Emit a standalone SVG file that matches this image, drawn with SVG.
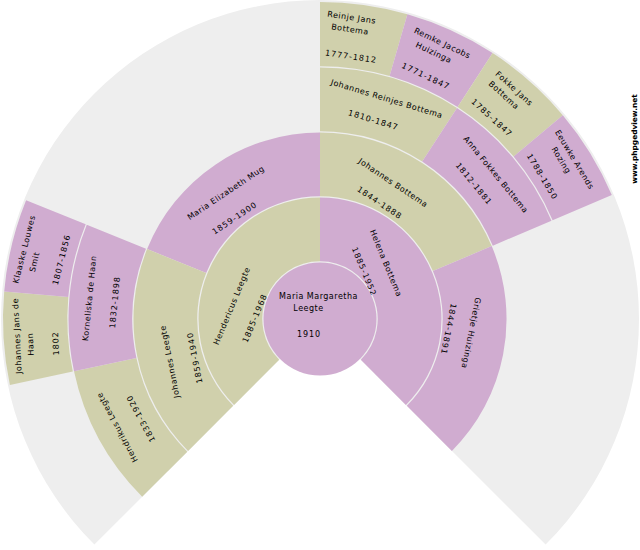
<svg xmlns="http://www.w3.org/2000/svg" width="640" height="550" viewBox="0 0 640 550">
<style>
.m{fill:#D0D0AC}.f{fill:#D0ACD0}.bg{fill:#EEEEEE}
text{font-family:"DejaVu Sans",sans-serif;font-size:8px;letter-spacing:.5px;text-anchor:middle;dominant-baseline:central;fill:#000}
text.d{letter-spacing:.95px}
.brand{font-size:7.4px;font-weight:bold;letter-spacing:0}
</style>
<rect width="640" height="550" fill="#fff"/>
<g id="background">
<path class="bg" d="M320 319L94.4 544.6A319 319 0 1 1 545.6 544.6Z"/>
</g>
<g id="connectors"/>
<g id="p-reinje"><path class="m" d="M320 2A317 317 0 0 1 407.4 14.3L389.6 76.1A252.7 252.7 0 0 0 320 66.3Z"/>
<text transform="translate(351.7 17.7) rotate(8.4)">Reinje Jans</text><text transform="translate(350 29.5) rotate(8.4)">Bottema</text><text class="d" transform="translate(351 56.7) rotate(8.4)">1777-1812</text></g>
<g id="p-remke"><path class="f" d="M407.4 14.3A317 317 0 0 1 492.6 53.1L457.6 107.1A252.7 252.7 0 0 0 389.6 76.1Z"/>
<text transform="translate(442.3 43.3) rotate(25.3)">Remke Jacobs</text><text transform="translate(433.7 52.7) rotate(25.3)">Huizinga</text><text class="d" transform="translate(425.7 76.3) rotate(25.3)">1771-1847</text></g>
<g id="p-fokke"><path class="m" d="M492.6 53.1A317 317 0 0 1 562.8 115.2L513.6 156.6A252.7 252.7 0 0 0 457.6 107.1Z"/>
<text transform="translate(514 88.7) rotate(42.2)">Fokke Jans</text><text transform="translate(503.7 95.3) rotate(42.2)">Bottema</text><text class="d" transform="translate(491.7 118) rotate(42.2)">1785-1847</text></g>
<g id="p-eeuwke"><path class="f" d="M562.8 115.2A317 317 0 0 1 611.8 195.1L552.6 220.3A252.7 252.7 0 0 0 513.6 156.6Z"/>
<text transform="translate(574.3 159.7) rotate(59)">Eeuwke Arends</text><text transform="translate(561 160.3) rotate(59)">Rozing</text><text class="d" transform="translate(542 176.7) rotate(59)">1788-1850</text></g>
<g id="p-johannes-reinjes"><path class="m" d="M320 67.5A251.5 251.5 0 0 1 457 108.1L422.2 161.6A187.7 187.7 0 0 0 320 131.3Z"/>
<text transform="translate(386.7 99) rotate(16.9)">Johannes Reinjes Bottema</text><text class="d" transform="translate(373.3 120.3) rotate(16.9)">1810-1847</text></g>
<g id="p-anna"><path class="f" d="M457 108.1A251.5 251.5 0 0 1 551.5 220.7L492.8 245.7A187.7 187.7 0 0 0 422.2 161.6Z"/>
<text transform="translate(495.7 174.7) rotate(50.6)">Anna Fokkes Bottema</text><text class="d" transform="translate(473.7 184) rotate(50.6)">1812-1881</text></g>
<g id="p-johannes-bottema"><path class="m" d="M320 132.5A186.5 186.5 0 0 1 491.7 246.1L432.9 271.1A122.7 122.7 0 0 0 320 196.3Z"/>
<text transform="translate(393 183) rotate(33.75)">Johannes Bottema</text><text class="d" transform="translate(379.5 203) rotate(33.75)">1844-1888</text></g>
<g id="p-grietje"><path class="f" d="M491.7 246.1A186.5 186.5 0 0 1 451.9 450.9L406.8 405.8A122.7 122.7 0 0 0 432.9 271.1Z"/>
<text transform="translate(471 333) rotate(101.25)">Grietje Huizinga</text><text class="d" transform="translate(448.3 329) rotate(101.25)">1844-1891</text></g>
<g id="p-helena"><path class="f" d="M320 197.5A121.5 121.5 0 0 1 405.9 404.9L360.8 359.8A57.7 57.7 0 0 0 320 261.3Z"/>
<text transform="translate(385.7 263.3) rotate(67.5)">Helena Bottema</text><text class="d" transform="translate(364 271.7) rotate(67.5)">1885-1952</text></g>
<g id="p-hendericus"><path class="m" d="M320 197.5A121.5 121.5 0 0 0 234.1 404.9L279.2 359.8A57.7 57.7 0 0 1 320 261.3Z"/>
<text transform="translate(232 306) rotate(-67.5)">Hendericus Leegte</text><text class="d" transform="translate(255 318.3) rotate(-67.5)">1885-1968</text></g>
<g id="p-maria-elizabeth"><path class="f" d="M320 132.5A186.5 186.5 0 0 0 147.1 249.1L206.2 273A122.7 122.7 0 0 1 320 196.3Z"/>
<text transform="translate(226 193) rotate(-33.75)">Maria Elizabeth Mug</text><text class="d" transform="translate(234.7 218.3) rotate(-33.75)">1859-1900</text></g>
<g id="p-johannes-leegte"><path class="m" d="M147.1 249.1A186.5 186.5 0 0 0 188.1 450.9L233.2 405.8A122.7 122.7 0 0 1 206.2 273Z"/>
<text transform="translate(170 361.7) rotate(-101.25)">Johannes Leegte</text><text class="d" transform="translate(195 357.7) rotate(-101.25)">1859-1940</text></g>
<g id="p-hendrikus"><path class="m" d="M74 371.3A251.5 251.5 0 0 0 142.2 496.8L187.3 451.7A187.7 187.7 0 0 1 136.4 358Z"/>
<text transform="translate(117.3 427.3) rotate(-118.1)">Hendrikus Leegte</text><text class="d" transform="translate(141 418.3) rotate(-118.1)">1833-1920</text></g>
<g id="p-korneliska"><path class="f" d="M74 371.3A251.5 251.5 0 0 1 86.8 224.8L146 248.7A187.7 187.7 0 0 0 136.4 358Z"/>
<text transform="translate(89.7 298.3) rotate(-84.4)">Korneliska de Haan</text><text class="d" transform="translate(115 302.3) rotate(-84.4)">1832-1898</text></g>
<g id="p-johannes-jans"><path class="m" d="M9.9 384.9A317 317 0 0 1 4.2 291.4L68.3 297A252.7 252.7 0 0 0 72.8 371.5Z"/>
<text transform="translate(17.3 336) rotate(-92.8)">Johannes Jans de</text><text transform="translate(30.7 344.3) rotate(-92.8)">Haan</text><text class="d" transform="translate(56 343.3) rotate(-92.8)">1802</text></g>
<g id="p-klaaske"><path class="f" d="M4.2 291.4A317 317 0 0 1 26.1 200.3L85.7 224.3A252.7 252.7 0 0 0 68.3 297Z"/>
<text transform="translate(24.3 249.3) rotate(-75.9)">Klaaske Louwes</text><text transform="translate(34.7 262) rotate(-75.9)">Smit</text><text class="d" transform="translate(61.7 259.7) rotate(-75.9)">1807-1856</text></g>
<g id="p-maria-margaretha"><circle class="f" cx="320" cy="319" r="56.5"/>
<text x="318.5" y="296">Maria Margaretha</text><text x="308.5" y="308">Leegte</text><text class="d" x="309" y="334">1910</text></g>
<text class="brand" transform="translate(634 139) rotate(-90)">www.phpgedview.net</text>
</svg>
